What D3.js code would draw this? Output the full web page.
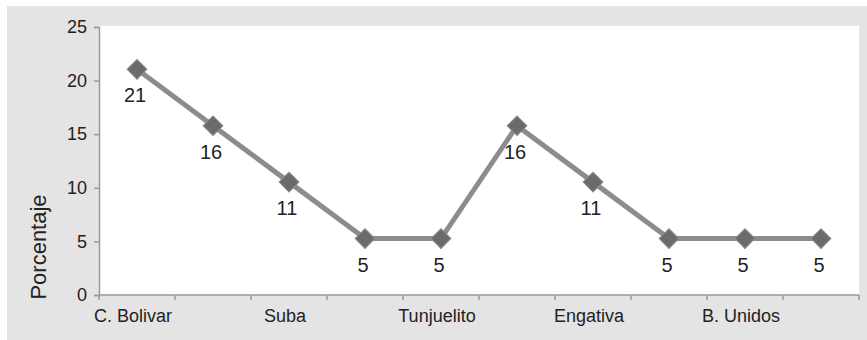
<!DOCTYPE html>
<html>
<head>
<meta charset="utf-8">
<script src="https://cdn.jsdelivr.net/npm/d3@7"></script>
<style>
  html, body { margin: 0; padding: 0; background: #ffffff; }
  svg { display: block; font-family: Arial, "Liberation Sans", Helvetica, sans-serif; }
</style>
</head>
<body>
<svg id="chart" width="867" height="340"></svg>
<script>
// Localities along the x axis (only every other one carries a label)
const categories = ["C. Bolivar", "", "Suba", "", "Tunjuelito", "", "Engativa", "", "B. Unidos", ""];
// Share of cases per locality, in percent
const values = [21.05, 15.79, 10.53, 5.26, 5.26, 15.79, 10.53, 5.26, 5.26, 5.26];
const yTicks = [0, 5, 10, 15, 20, 25];
const yTitle = "Porcentaje";

const svg = d3.select("#chart");
const W = 867, H = 340;
const plot = { left: 99, right: 859, top: 27, bottom: 295 };

// outer grey panel
svg.append("rect").attr("x", 7).attr("y", 6).attr("width", W - 7).attr("height", H - 6)
  .attr("fill", "#e4e4e5");
// white plot area
svg.append("rect").attr("x", plot.left).attr("y", plot.top - 1)
  .attr("width", plot.right - plot.left).attr("height", plot.bottom - plot.top + 1)
  .attr("fill", "#ffffff");

const x = d3.scaleBand().domain(d3.range(categories.length))
  .range([plot.left, plot.right]).paddingInner(0).paddingOuter(0);
const y = d3.scaleLinear().domain([0, 25]).range([plot.bottom, plot.top]);

const axisColor = "#9a9a9a";
const textColor = "#222222";

// y axis
const yAxis = svg.append("g").attr("transform", `translate(${plot.left},0)`)
  .call(d3.axisLeft(y).tickValues(yTicks).tickSize(5).tickPadding(7).tickFormat(d3.format("d")));
yAxis.select(".domain").attr("stroke", axisColor).attr("stroke-width", 1.5);
yAxis.selectAll(".tick line").attr("stroke", axisColor).attr("stroke-width", 1.5);
yAxis.selectAll(".tick text").attr("fill", textColor).style("font-size", "18px")
  .attr("font-family", "Arial, 'Liberation Sans', sans-serif");

// x axis: tick marks on the category boundaries, labels at the centres
const boundaries = d3.range(categories.length + 1).map(i => plot.left + i * x.step());
const xAxis = svg.append("g");
xAxis.append("line").attr("x1", plot.left).attr("x2", plot.right)
  .attr("y1", plot.bottom).attr("y2", plot.bottom)
  .attr("stroke", axisColor).attr("stroke-width", 1.5);
xAxis.selectAll("line.tick").data(boundaries).join("line").attr("class", "tick")
  .attr("x1", d => d).attr("x2", d => d)
  .attr("y1", plot.bottom).attr("y2", plot.bottom + 5)
  .attr("stroke", axisColor).attr("stroke-width", 1.5);
xAxis.selectAll("text").data(categories.map((c, i) => ({ c, i })).filter(d => d.c !== ""))
  .join("text")
  .attr("x", d => x(d.i) + x.bandwidth() / 2 - 4)
  .attr("y", plot.bottom + 27)
  .attr("text-anchor", "middle")
  .attr("fill", textColor).style("font-size", "18px")
  .text(d => d.c);

// y axis title
svg.append("text")
  .attr("transform", `translate(46,247) rotate(-90)`)
  .attr("text-anchor", "middle")
  .attr("fill", textColor).style("font-size", "22px")
  .text(yTitle);

// series line
const cx = i => x(i) + x.bandwidth() / 2;
const line = d3.line().x((d, i) => cx(i)).y(d => y(d));
svg.append("path").datum(values)
  .attr("d", line)
  .attr("fill", "none").attr("stroke", "#8c8c8c").attr("stroke-width", 5)
  .attr("stroke-linejoin", "round");

// diamond markers
const diamond = d3.symbol().type(d3.symbolSquare).size(195);
svg.selectAll("path.marker").data(values).join("path").attr("class", "marker")
  .attr("d", diamond)
  .attr("transform", (d, i) => `translate(${cx(i)},${y(d)}) rotate(45)`)
  .attr("fill", "#6b6b6e").attr("stroke", "#8a8a8c").attr("stroke-width", 1);

// value labels below each point
svg.selectAll("text.value").data(values).join("text").attr("class", "value")
  .attr("x", (d, i) => cx(i) - 2)
  .attr("y", d => y(d) + 33)
  .attr("text-anchor", "middle")
  .attr("fill", textColor).style("font-size", "20px")
  .text(d => d3.format(".0f")(d));
</script>
</body>
</html>
